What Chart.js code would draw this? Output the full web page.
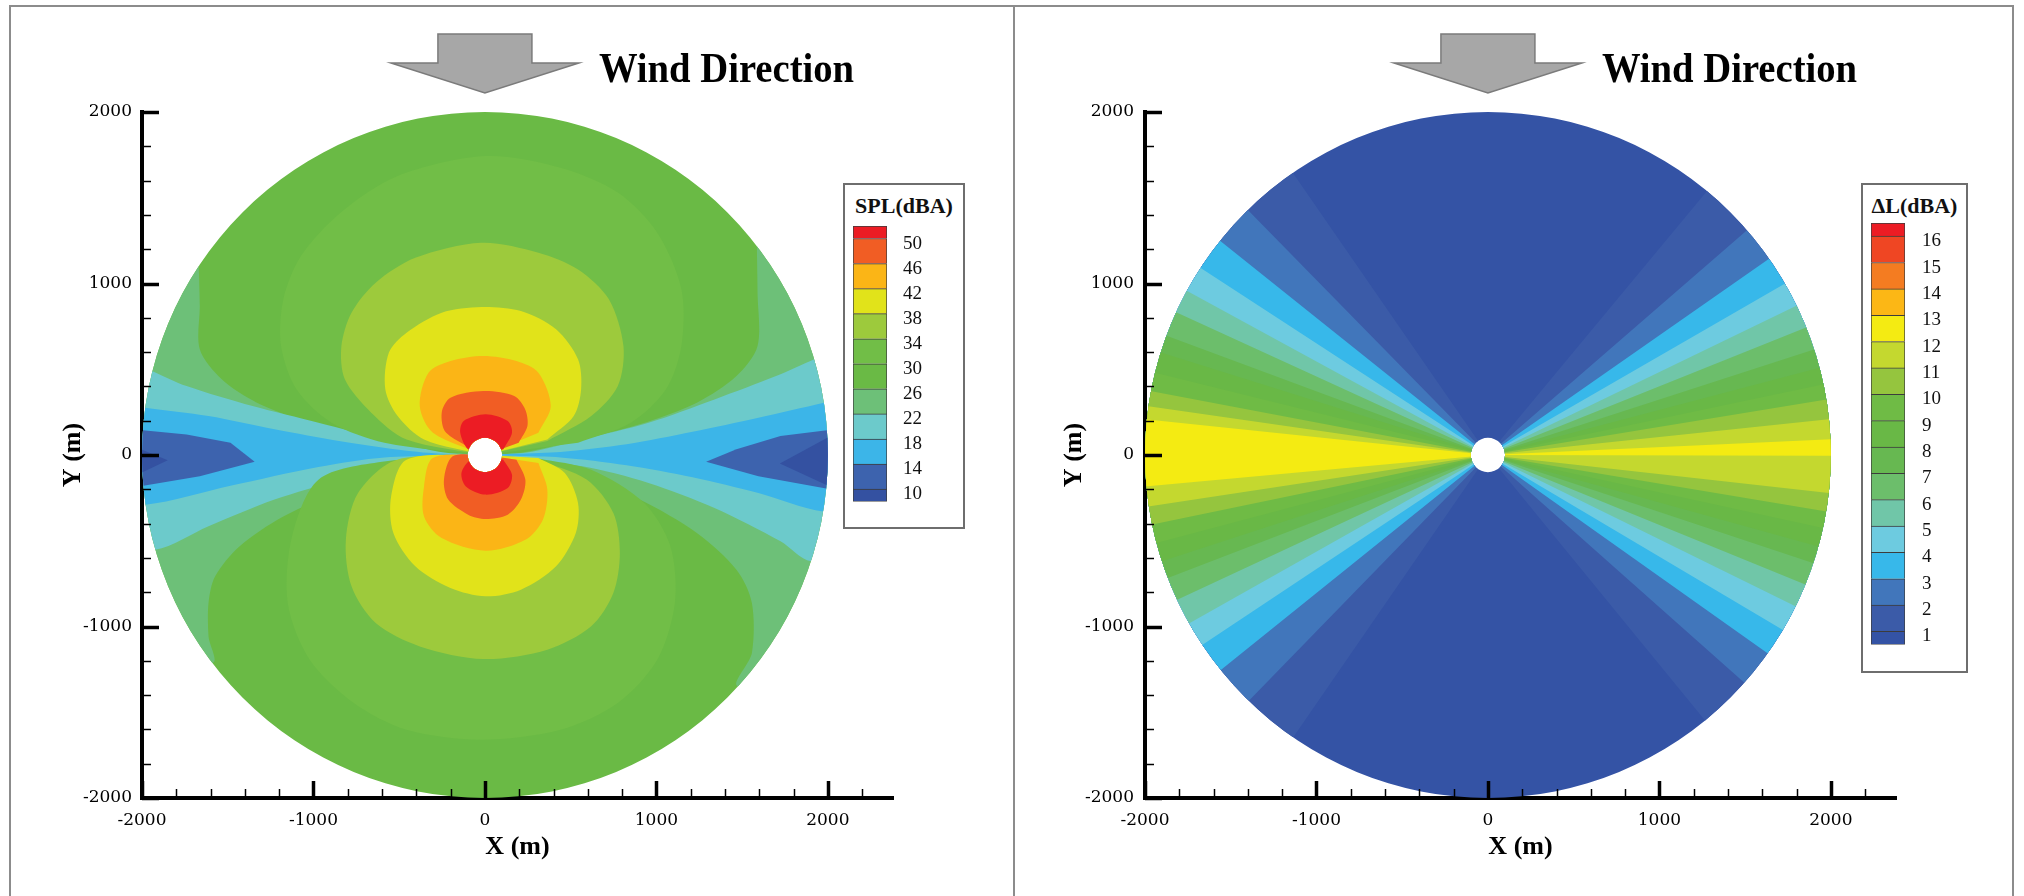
<!DOCTYPE html>
<html>
<head>
<meta charset="utf-8">
<title>SPL and ΔL contour maps</title>
<script src="https://cdn.jsdelivr.net/npm/chart.js@4.4.1/dist/chart.umd.min.js"></script>
<style>
  html, body { margin: 0; padding: 0; background: #fff; }
  body { position: relative; width: 2024px; height: 896px; overflow: hidden; }
  .panel { position: absolute; top: 5px; height: 905px; border: 2px solid #8c8c8c; box-sizing: border-box; }
  canvas { position: absolute; top: 0; }
  .legend-box { position: absolute; border: 2px solid #6e6e6e; background: #fff; box-sizing: border-box; }
  .legend-title { position: absolute; left: 0; right: 0; text-align: center; font: bold 22px 'Liberation Serif', serif; color: #111; line-height: normal; }
</style>
</head>
<body>
<div class="panel" style="left:9px;width:1006px"></div>
<div class="panel" style="left:1013px;width:1001px"></div>
<canvas id="splChart" width="1014" height="896" style="left:0"></canvas>
<canvas id="dlChart" width="1010" height="896" style="left:1014px"></canvas>
<div class="legend-box" style="left:843px;top:183px;width:122px;height:346px">
  <div class="legend-title" style="top:8px">SPL(dBA)</div>
</div>
<canvas id="splBar" width="122" height="346" style="left:843px;top:183px"></canvas>
<div class="legend-box" style="left:1861px;top:183px;width:107px;height:490px">
  <div class="legend-title" style="top:8px">ΔL(dBA)</div>
</div>
<canvas id="dlBar" width="107" height="490" style="left:1861px;top:183px"></canvas>

<script>
// ---------- axes (metres) ----------
const axisMajorTicks = [-2000, -1000, 0, 1000, 2000];
const axisMinorStep = 200;
const domainRadius = 2000;   // computational domain
const sourceRadius = 100;    // turbine footprint left blank

// ---------- SPL(dBA) contour levels and band colours ----------
const splLevels = [10, 14, 18, 22, 26, 30, 34, 38, 42, 46, 50];
const splBandColors = ['#3451a1', '#3d63ae', '#3cb5e8', '#6ccacb', '#6dc078', '#6aba45',
                       '#71be47', '#9dca3c', '#e1e31a', '#fbb516', '#f15d24', '#ec1c24'];

// side regions: rim -> origin -> rim
const splLightGreenWest = [[-1669,1102],[-1663,869],[-1663,616],[-1535,441],[-1330,305],[-1022,188],[-637,91],[-252,13],[0,0],[-406,-76],[-817,-202],[-1176,-358],[-1432,-533],[-1574,-708],[-1612,-863],[-1612,-1058],[-1590,-1213]];
const splLightGreenEast = [[1586,1219],[1590,946],[1590,635],[1467,460],[1236,305],[903,179],[518,82],[210,13],[0,0],[210,-27],[518,-105],[903,-260],[1236,-455],[1467,-669],[1557,-863],[1557,-1155],[1477,-1349]];
const splCyanWest = [[-1939,489],[-1740,402],[-1355,285],[-971,188],[-586,91],[-226,13],[0,0],[-457,-47],[-842,-144],[-1227,-260],[-1612,-416],[-1923,-552]];
const splCyanEast = [[1921,558],[1698,460],[1339,324],[954,188],[569,91],[236,13],[0,0],[569,-66],[954,-163],[1339,-309],[1724,-503],[1902,-620]];
const splBlueWest = [[-1981,276],[-1612,227],[-1227,150],[-842,80],[-457,25],[-201,4],[0,0],[-586,-14],[-971,-70],[-1484,-180],[-1979,-290]];
const splBlueEast = [[1977,305],[1595,217],[1211,135],[826,62],[441,18],[0,0],[441,-14],[826,-60],[1211,-130],[1595,-222],[1973,-329]];
const splDarkBlueWest = [[-1995,145],[-1740,120],[-1484,72],[-1343,-40],[-1663,-124],[-1992,-180]];
const splDarkBlueEast = [[1995,145],[1724,111],[1467,33],[1290,-40],[1595,-124],[1990,-195]];
const splDeepBlueWest = [[-1999,30],[-1850,-30],[-1997,-100]];
const splDeepBlueEast = [[1997,100],[1720,-50],[1992,-175]];

// lobes above (North) and below (South) the source
const splLobe30North = [[0,0],[-586,72],[-894,188],[-1099,383],[-1189,635],[-1176,907],[-1073,1160],[-842,1413],[-509,1627],[4,1743],[441,1675],[775,1530],[1005,1296],[1146,966],[1146,635],[1056,383],[851,188],[543,72]];
const splLobe30South = [[0,0],[-600,-40],[-971,-144],[-1125,-474],[-1150,-863],[-1022,-1194],[-765,-1446],[-457,-1602],[-21,-1660],[441,-1602],[775,-1446],[1005,-1194],[1108,-863],[1082,-533],[929,-280],[620,-86],[312,-20]];
const splLobe34North = [[0,0],[-457,91],[-663,247],[-817,441],[-837,635],[-778,830],[-637,1005],[-406,1150],[-21,1238],[312,1180],[543,1082],[723,908],[808,635],[775,402],[620,227],[364,82]];
const splLobe34South = [[0,0],[-520,-30],[-740,-222],[-811,-494],[-778,-766],[-637,-980],[-380,-1116],[-8,-1190],[364,-1135],[620,-999],[749,-805],[787,-572],[749,-338],[595,-144],[312,-27]];
const splLobe38North = [[0,0],[-355,91],[-509,227],[-581,383],[-560,597],[-457,713],[-252,830],[-21,863],[210,839],[415,733],[543,558],[561,383],[518,227],[364,91]];
const splLobe38South = [[0,0],[-457,-27],[-547,-241],[-534,-455],[-406,-649],[-201,-776],[4,-824],[210,-785],[415,-649],[530,-455],[543,-280],[466,-105],[312,-17]];
const splLobe42North = [[0,0],[-303,130],[-380,285],[-329,480],[-201,548],[-8,577],[184,548],[312,480],[384,285],[312,130]];
const splLobe42South = [[0,0],[-303,-17],[-355,-183],[-355,-358],[-252,-484],[4,-558],[236,-494],[338,-377],[364,-202],[312,-47]];
const splLobe46North = [[0,0],[-226,130],[-252,247],[-201,334],[-8,373],[171,344],[235,266],[248,169],[197,72]];
const splLobe46South = [[0,0],[-188,-8],[-239,-144],[-214,-260],[-98,-348],[4,-373],[133,-348],[210,-260],[236,-144],[184,-27]];
const splLobe50North = [[0,0],[-98,33],[-144,130],[-124,198],[4,237],[133,198],[158,130],[107,33]];
const splLobe50South = [[0,0],[-85,-27],[-137,-105],[-111,-183],[4,-231],[133,-192],[158,-115],[107,-27]];

// ---------- ΔL(dBA) contour levels and band colours ----------
const dlLevels = [1, 2, 3, 4, 5, 6, 7, 8, 9, 10, 11, 12, 13, 14, 15, 16];
const dlBandColors = ['#3453a5', '#3b5ba8', '#4176bb', '#37b8ea', '#6dcbe0', '#70c6a8', '#6cbe6b',
                      '#67b851', '#69b846', '#6fbb45', '#95c53e', '#c4d82f', '#f4eb12',
                      '#fcb715', '#f47c21', '#ef4623', '#ec1c24'];
// where each level line (1..12) meets the rim, per quadrant
const dlRimNW = [[-1125,1627],[-1389,1417],[-1548,1238],[-1663,1082],[-1753,956],[-1812,830],[-1869,694],[-1906,597],[-1941,480],[-1965,373],[-1980,285],[-1989,208]];
const dlRimSW = [[-1125,-1631],[-1389,-1427],[-1556,-1252],[-1663,-1106],[-1740,-980],[-1812,-844],[-1867,-717],[-1902,-620],[-1933,-513],[-1958,-406],[-1977,-299],[-1992,-183]];
const dlRimNE = [[1262,1520],[1506,1306],[1634,1141],[1724,995],[1796,869],[1852,742],[1903,616],[1934,509],[1957,412],[1974,324],[1989,208],[1998,91]];
const dlRimSE = [[1262,-1543],[1498,-1330],[1629,-1155],[1719,-1019],[1796,-883],[1852,-756],[1897,-630],[1927,-533],[1954,-426],[1973,-329],[1988,-222],[2000,-5]];

// ---------- helpers ----------
const outside = 2600;        // a distance safely beyond the rim

function toPoints(arr) { return arr.map(([x, y]) => ({ x, y })); }

function region(points, color, smooth) {
  return { data: toPoints(points), backgroundColor: color, borderWidth: 0,
           pointRadius: 0, pointHoverRadius: 0, tension: smooth ? 0.3 : 0, fill: 'shape' };
}

// close a rim-to-rim boundary around the outside of the domain (dir -1 west, +1 east)
function sideRegion(boundary, dir) {
  const first = boundary[0], last = boundary[boundary.length - 1];
  return [...boundary, [dir * outside, last[1]], [dir * outside, first[1]]];
}

// wedge pair on both sides of the source bounded by the level lines reaching the rim
function bowTie(nw, sw, ne, se) {
  const f = outside / domainRadius;
  const a = [nw[0] * f, nw[1] * f], b = [sw[0] * f, sw[1] * f];
  const c = [se[0] * f, se[1] * f], d = [ne[0] * f, ne[1] * f];
  const w = outside * 1.3;
  return [[0, 0], a, [-w, a[1]], [-w, b[1]], b, [0, 0], c, [w, c[1]], [w, d[1]], d];
}

function withOrder(datasets) {
  // first entry is painted first (bottom), last on top
  datasets.forEach((ds, i) => { ds.order = datasets.length - i; });
  return datasets;
}

const fullField = [[-outside, -outside], [outside, -outside], [outside, outside], [-outside, outside]];

// ---------- plugins ----------
const domainClip = {
  id: 'domainClip',
  beforeDatasetsDraw(chart) {
    const { ctx, scales: { x, y } } = chart;
    const cx = x.getPixelForValue(0), cy = y.getPixelForValue(0);
    const rx = x.getPixelForValue(domainRadius) - cx, ry = cy - y.getPixelForValue(domainRadius);
    const hx = x.getPixelForValue(sourceRadius) - cx, hy = cy - y.getPixelForValue(sourceRadius);
    ctx.save();
    ctx.beginPath();
    ctx.ellipse(cx, cy, rx, ry, 0, 0, Math.PI * 2);
    ctx.moveTo(cx + hx, cy);
    ctx.ellipse(cx, cy, hx, hy, 0, 0, Math.PI * 2);
    ctx.clip('evenodd');
  },
  afterDatasetsDraw(chart) { chart.ctx.restore(); }
};

const inwardTicks = {
  id: 'inwardTicks',
  afterDraw(chart) {
    const { ctx, chartArea, scales: { x, y } } = chart;
    ctx.save();
    ctx.strokeStyle = '#000';
    ctx.lineCap = 'butt';
    x.ticks.forEach(t => {
      const major = axisMajorTicks.includes(t.value);
      const px = Math.round(x.getPixelForValue(t.value)) + 0.5;
      ctx.lineWidth = major ? 3.5 : 1.5;
      ctx.beginPath();
      ctx.moveTo(px, chartArea.bottom);
      ctx.lineTo(px, chartArea.bottom - (major ? 17 : 9));
      ctx.stroke();
    });
    y.ticks.forEach(t => {
      const major = axisMajorTicks.includes(t.value);
      const py = Math.round(y.getPixelForValue(t.value)) + 0.5;
      ctx.lineWidth = major ? 3.5 : 1.5;
      ctx.beginPath();
      ctx.moveTo(chartArea.left, py);
      ctx.lineTo(chartArea.left + (major ? 17 : 9), py);
      ctx.stroke();
    });
    ctx.restore();
  }
};

const windArrow = {
  id: 'windArrow',
  afterDraw(chart) {
    const ctx = chart.ctx;
    const cx = chart.scales.x.getPixelForValue(0);
    ctx.save();
    ctx.beginPath();
    ctx.moveTo(cx - 47, 34);
    ctx.lineTo(cx + 47, 34);
    ctx.lineTo(cx + 47, 63);
    ctx.lineTo(cx + 94, 63);
    ctx.lineTo(cx, 93);
    ctx.lineTo(cx - 94, 63);
    ctx.lineTo(cx - 47, 63);
    ctx.closePath();
    ctx.fillStyle = '#a7a7a7';
    ctx.fill();
    ctx.strokeStyle = '#7b7b7b';
    ctx.lineWidth = 1.5;
    ctx.stroke();
    ctx.translate(cx + 114, 82);
    ctx.scale(0.92, 1);
    ctx.font = 'bold 42px "Liberation Serif"';
    ctx.fillStyle = '#000';
    ctx.textBaseline = 'alphabetic';
    ctx.fillText('Wind Direction', 0, 0);
    ctx.restore();
  }
};

function axisTickValues(lo, hi) {
  const out = [];
  for (let v = lo; v <= hi; v += axisMinorStep) out.push(v);
  return out;
}

function fieldOptions(padRight, yAxisWidth, yTitlePad, labelGap) {
  const tickFont = { family: 'DejaVu Serif', size: 17 };
  const titleFont = { family: 'Liberation Serif', size: 26, weight: 'bold' };
  const label = v => (axisMajorTicks.includes(v) ? String(v) : '');
  return {
    responsive: false, animation: false, devicePixelRatio: 1, events: [],
    layout: { padding: { left: 0, top: 112, right: padRight, bottom: 33 } },
    elements: { line: { capBezierPoints: false } },
    plugins: { legend: { display: false }, tooltip: { enabled: false } },
    scales: {
      x: {
        type: 'linear', min: -2000, max: 2380,
        afterBuildTicks: s => { s.ticks = axisTickValues(-2000, 2200).map(v => ({ value: v })); },
        afterFit: s => { s.height = 65; },
        grid: { display: false, drawTicks: false },
        border: { display: true, width: 4, color: '#000' },
        ticks: { autoSkip: false, maxRotation: 0, minRotation: 0, padding: 12, color: '#000', font: tickFont, callback: label },
        title: { display: true, text: 'X (m)', color: '#000', font: titleFont, padding: { top: 0, bottom: 0 } }
      },
      y: {
        type: 'linear', min: -2000, max: 2000,
        afterBuildTicks: s => { s.ticks = axisTickValues(-2000, 2000).map(v => ({ value: v })); },
        afterFit: s => { s.width = yAxisWidth; },
        grid: { display: false, drawTicks: false },
        border: { display: true, width: 4, color: '#000' },
        ticks: { autoSkip: false, padding: labelGap, color: '#000', font: tickFont, callback: label },
        title: { display: true, text: 'Y (m)', color: '#000', font: titleFont, padding: { top: yTitlePad, bottom: 0 } }
      }
    }
  };
}

// ---------- SPL field ----------
const splDatasets = withOrder([
  region(fullField, splBandColors[5]),
  region(sideRegion(splLightGreenWest, -1), splBandColors[4], true),
  region(sideRegion(splLightGreenEast, 1), splBandColors[4], true),
  region(sideRegion(splCyanWest, -1), splBandColors[3], true),
  region(sideRegion(splCyanEast, 1), splBandColors[3], true),
  region(sideRegion(splBlueWest, -1), splBandColors[2], true),
  region(sideRegion(splBlueEast, 1), splBandColors[2], true),
  region(sideRegion(splDarkBlueWest, -1), splBandColors[1]),
  region(sideRegion(splDarkBlueEast, 1), splBandColors[1]),
  region(sideRegion(splDeepBlueWest, -1), splBandColors[0]),
  region(sideRegion(splDeepBlueEast, 1), splBandColors[0]),
  region(splLobe30North, splBandColors[6], true), region(splLobe30South, splBandColors[6], true),
  region(splLobe34North, splBandColors[7], true), region(splLobe34South, splBandColors[7], true),
  region(splLobe38North, splBandColors[8], true), region(splLobe38South, splBandColors[8], true),
  region(splLobe42North, splBandColors[9], true), region(splLobe42South, splBandColors[9], true),
  region(splLobe46North, splBandColors[10], true), region(splLobe46South, splBandColors[10], true),
  region(splLobe50North, splBandColors[11], true), region(splLobe50South, splBandColors[11], true)
]);

new Chart(document.getElementById('splChart'), {
  type: 'line',
  data: { datasets: splDatasets },
  options: fieldOptions(121, 142, 58, 10),
  plugins: [domainClip, inwardTicks, windArrow]
});

// ---------- ΔL field ----------
const dlDatasets = [region(fullField, dlBandColors[0])];
dlRimNW.forEach((_, i) => {
  dlDatasets.push(region(bowTie(dlRimNW[i], dlRimSW[i], dlRimNE[i], dlRimSE[i]), dlBandColors[i + 1]));
});

new Chart(document.getElementById('dlChart'), {
  type: 'line',
  data: { datasets: withOrder(dlDatasets) },
  options: fieldOptions(128, 131, 45, 11),
  plugins: [domainClip, inwardTicks, windArrow]
});

// ---------- colour bars ----------
function colorBar(id, levels, colors, lo, hi, o) {
  const edges = [lo, ...levels, hi];
  const datasets = colors.map((c, i) => ({
    data: [[edges[i], edges[i + 1]]],
    backgroundColor: c,
    borderColor: '#3c3c3c',
    borderWidth: { top: 1, left: 1, right: 1, bottom: i === 0 ? 1 : 0 },
    borderSkipped: false,
    grouped: false,
    barPercentage: 1,
    categoryPercentage: 1
  }));
  return new Chart(document.getElementById(id), {
    type: 'bar',
    data: { labels: [''], datasets },
    options: {
      responsive: false, animation: false, devicePixelRatio: 1, events: [],
      layout: { padding: { left: 10, right: 0, top: o.top, bottom: o.bottom } },
      plugins: { legend: { display: false }, tooltip: { enabled: false } },
      scales: {
        x: { display: false },
        y: {
          position: 'right', min: lo, max: hi,
          afterBuildTicks: s => { s.ticks = levels.map(v => ({ value: v })); },
          afterFit: s => { s.width = o.axisWidth; },
          grid: { display: false, drawTicks: false },
          border: { display: false },
          ticks: { autoSkip: false, padding: o.gap, labelOffset: 5, color: '#111',
                   font: { family: 'Liberation Serif', size: 19 }, callback: v => String(v) }
        }
      }
    }
  });
}

colorBar('splBar', splLevels, splBandColors, 8, 52, { top: 43, bottom: 7, axisWidth: 78, gap: 16 });
colorBar('dlBar', dlLevels, dlBandColors, 0.5, 16.5, { top: 40, bottom: 20, axisWidth: 63, gap: 17 });
</script>
</body>
</html>
